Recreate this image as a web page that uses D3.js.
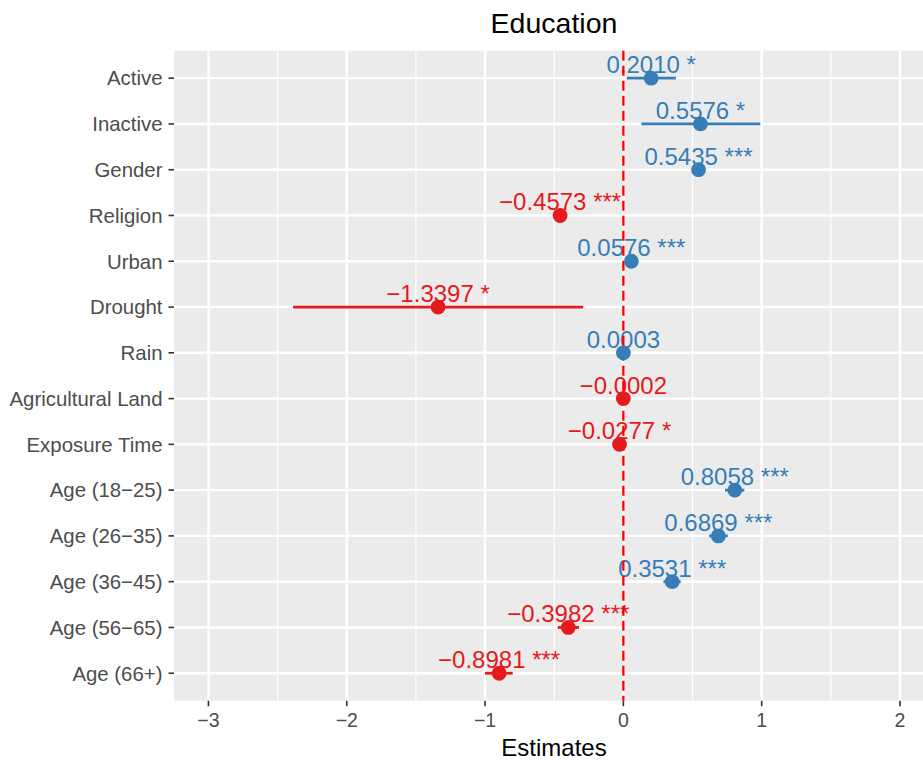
<!DOCTYPE html>
<html>
<head>
<meta charset="utf-8">
<script src="https://cdn.jsdelivr.net/npm/d3@7"></script>
<style>
  html, body { margin: 0; padding: 0; background: #ffffff; overflow: hidden; }
  svg { display: block; font-family: "Liberation Sans", Arial, sans-serif; }
</style>
</head>
<body>
<svg id="chart" width="923" height="762"></svg>
<script>
// Model terms, top to bottom
const terms = ["Active", "Inactive", "Gender", "Religion", "Urban", "Drought", "Rain",
  "Agricultural Land", "Exposure Time", "Age (18\u221225)", "Age (26\u221235)",
  "Age (36\u221245)", "Age (56\u221265)", "Age (66+)"];
// Point estimates
const estimates = [0.2010, 0.5576, 0.5435, -0.4573, 0.0576, -1.3397, 0.0003,
  -0.0002, -0.0277, 0.8058, 0.6869, 0.3531, -0.3982, -0.8981];
// Confidence interval bounds
const ciLow = [0.025, 0.13, 0.515, -0.49, 0.04, -2.388, -0.001,
  -0.001, -0.045, 0.735, 0.62, 0.29, -0.475, -1.0];
const ciHigh = [0.380, 0.99, 0.572, -0.425, 0.075, -0.29, 0.0016,
  0.0006, -0.010, 0.875, 0.755, 0.415, -0.32, -0.80];
// Significance stars
const stars = ["*", "*", "***", "***", "***", "*", "", "", "*", "***", "***", "***", "***", "***"];
// Axis ticks
const xTicks = [-3, -2, -1, 0, 1, 2];
const xMinor = [-2.5, -1.5, -0.5, 0.5, 1.5];

const rows = terms.map((t, i) => ({
  term: t, est: estimates[i], lo: ciLow[i], hi: ciHigh[i], stars: stars[i]
}));

const BLUE = "#377EB8", RED = "#E41A1C";
const colorOf = d => d.est >= 0 ? BLUE : RED;
const fmt = v => (v < 0 ? "\u2212" : "") + Math.abs(v).toFixed(4);

const panel = { left: 174, right: 934, top: 50.7, bottom: 700.7 };

const x = d3.scaleLinear().domain([-3.249, 2.246]).range([panel.left, panel.right]);
const y = d3.scalePoint().domain(terms).range([panel.top, panel.bottom]).padding(0.6);

const svg = d3.select("#chart");

// panel background
svg.append("rect")
  .attr("x", panel.left).attr("y", panel.top)
  .attr("width", panel.right - panel.left).attr("height", panel.bottom - panel.top)
  .attr("fill", "#EBEBEB");

const grid = svg.append("g");
grid.selectAll("line.minor").data(xMinor).join("line")
  .attr("x1", d => x(d)).attr("x2", d => x(d))
  .attr("y1", panel.top).attr("y2", panel.bottom)
  .attr("stroke", "#ffffff").attr("stroke-width", 1.2);
grid.selectAll("line.majx").data(xTicks).join("line")
  .attr("x1", d => x(d)).attr("x2", d => x(d))
  .attr("y1", panel.top).attr("y2", panel.bottom)
  .attr("stroke", "#ffffff").attr("stroke-width", 2.4);
grid.selectAll("line.majy").data(terms).join("line")
  .attr("x1", panel.left).attr("x2", panel.right)
  .attr("y1", d => y(d)).attr("y2", d => y(d))
  .attr("stroke", "#ffffff").attr("stroke-width", 2.4);

// value labels
svg.append("g").selectAll("text").data(rows).join("text")
  .attr("x", d => x(d.est))
  .attr("y", d => y(d.term) - 5)
  .attr("text-anchor", "middle")
  .attr("font-size", 24)
  .attr("fill", colorOf)
  .text(d => fmt(d.est) + (d.stars ? " " + d.stars : ""));

// reference line at zero
svg.append("line")
  .attr("x1", x(0)).attr("x2", x(0))
  .attr("y1", panel.top).attr("y2", panel.bottom)
  .attr("stroke", "#FF0000").attr("stroke-width", 2.3)
  .attr("stroke-dasharray", "10,5");

// confidence intervals
svg.append("g").selectAll("line").data(rows).join("line")
  .attr("x1", d => x(d.lo)).attr("x2", d => x(d.hi))
  .attr("y1", d => y(d.term)).attr("y2", d => y(d.term))
  .attr("stroke", colorOf).attr("stroke-width", 2.8);

// point estimates
svg.append("g").selectAll("circle").data(rows).join("circle")
  .attr("cx", d => x(d.est)).attr("cy", d => y(d.term))
  .attr("r", 7.4).attr("fill", colorOf);

// y axis
const yAxis = svg.append("g");
yAxis.selectAll("line").data(terms).join("line")
  .attr("x1", panel.left - 5.5).attr("x2", panel.left)
  .attr("y1", d => y(d)).attr("y2", d => y(d))
  .attr("stroke", "#333333").attr("stroke-width", 1.6);
yAxis.selectAll("text").data(terms).join("text")
  .attr("x", panel.left - 11.5)
  .attr("y", d => y(d) + 7.3)
  .attr("text-anchor", "end")
  .attr("font-size", 20.4)
  .attr("fill", "#4D4D4D")
  .text(d => d);

// x axis
const xAxis = svg.append("g");
xAxis.selectAll("line").data(xTicks).join("line")
  .attr("x1", d => x(d)).attr("x2", d => x(d))
  .attr("y1", panel.bottom).attr("y2", panel.bottom + 5.5)
  .attr("stroke", "#333333").attr("stroke-width", 1.6);
xAxis.selectAll("text").data(xTicks).join("text")
  .attr("x", d => x(d))
  .attr("y", 726.5)
  .attr("text-anchor", "middle")
  .attr("font-size", 19.5)
  .attr("fill", "#4D4D4D")
  .text(d => (d < 0 ? "\u2212" : "") + Math.abs(d));

// titles
const cx = (panel.left + panel.right) / 2;
svg.append("text")
  .attr("x", cx).attr("y", 756)
  .attr("text-anchor", "middle")
  .attr("font-size", 24)
  .attr("fill", "#000000")
  .text("Estimates");
svg.append("text")
  .attr("x", cx).attr("y", 32.5)
  .attr("text-anchor", "middle")
  .attr("font-size", 28.5)
  .attr("fill", "#000000")
  .text("Education");
</script>
</body>
</html>
